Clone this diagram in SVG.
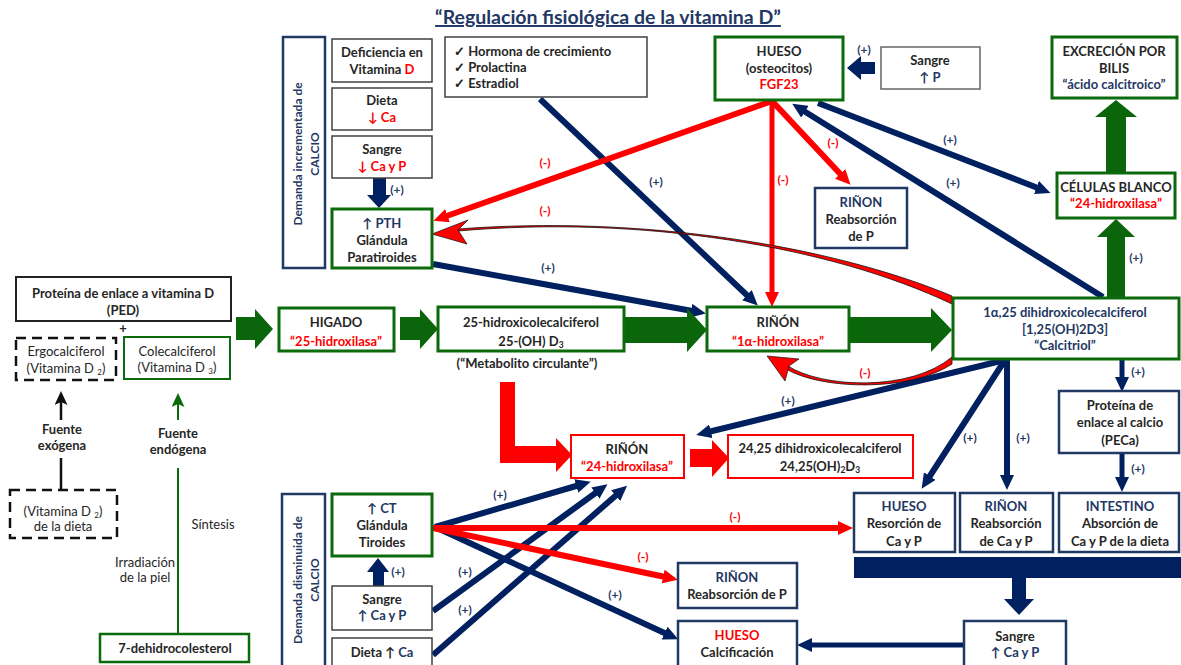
<svg xmlns="http://www.w3.org/2000/svg" width="1181" height="665" viewBox="0 0 1181 665">
<style>
text{font-family:Lato,"Liberation Sans",sans-serif;font-weight:bold;font-size:13px;text-anchor:middle;fill:#262626}
.n{fill:#1F3864}
.r{fill:#FF0000}
.reg{font-weight:normal}
.st{text-anchor:start}
.rot{font-size:12px}
.lb{font-size:12px}
.bg{fill:#fff;stroke:#404040;stroke-width:1.5}
.bgr{fill:#fff;stroke:#0B6A0B;stroke-width:3}
.bn{fill:#fff;stroke:#1F3864;stroke-width:2.5}
.br{fill:#fff;stroke:#FF0000;stroke-width:2}
.bd{fill:#fff;stroke:#111;stroke-width:2.5;stroke-dasharray:10 6}
.an{stroke:#002060;stroke-width:6;fill:none;marker-end:url(#mn)}
.ar{stroke:#FF0000;stroke-width:6;fill:none;marker-end:url(#mr)}
.gb{fill:#0B650B}
.nb{fill:#002060}
.rb{fill:#FF0000}
</style>
<defs>
<marker id="mn" markerUnits="userSpaceOnUse" markerWidth="15" markerHeight="14" viewBox="0 0 15 14" refX="7" refY="7" orient="auto"><path d="M0,0 L15,7 L0,14 z" fill="#002060"/></marker>
<marker id="mr" markerUnits="userSpaceOnUse" markerWidth="15" markerHeight="14" viewBox="0 0 15 14" refX="7" refY="7" orient="auto"><path d="M0,0 L15,7 L0,14 z" fill="#FF0000"/></marker>
<marker id="mk" markerUnits="userSpaceOnUse" markerWidth="14" markerHeight="13" viewBox="0 0 14 13" refX="7" refY="6.5" orient="auto"><path d="M0,0 L14,6.5 L0,13 L3,6.5 z" fill="#111"/></marker>
<marker id="mg" markerUnits="userSpaceOnUse" markerWidth="14" markerHeight="13" viewBox="0 0 14 13" refX="7" refY="6.5" orient="auto"><path d="M0,0 L14,6.5 L0,13 L3,6.5 z" fill="#0B6A0B"/></marker>
</defs>
<rect width="1181" height="665" fill="#fff"/>
<text id="title" x="608" y="24" class="n" style="font-size:19.5px;text-decoration:underline">“Regulación fisiológica de la vitamina D”</text>

<g id="connectors">
  <line class="an" x1="540" y1="99" x2="752" y2="300"/>
  <line class="an" x1="433" y1="264" x2="698" y2="312"/>
  <line class="an" x1="1103" y1="297" x2="799" y2="108"/>
  <line class="an" x1="818" y1="103" x2="1043" y2="190"/>
  <line class="an" x1="1005" y1="360" x2="704" y2="433"/>
  <line class="an" x1="1005" y1="360" x2="926" y2="482"/>
  <line class="an" x1="1007" y1="360" x2="1007" y2="482"/>
  <line class="an" x1="1122" y1="359" x2="1122" y2="384" style="stroke-width:5"/>
  <line class="an" x1="1122" y1="453" x2="1122" y2="484" style="stroke-width:5"/>
  <line class="an" x1="435" y1="527" x2="583" y2="484"/>
  <line class="an" x1="433" y1="611" x2="601" y2="489"/>
  <line class="an" x1="433" y1="655" x2="621" y2="491"/>
  <line class="an" x1="435" y1="527" x2="671" y2="636"/>
  <line class="an" x1="964" y1="645" x2="805" y2="645" style="stroke-width:5"/>
  <line class="ar" x1="772" y1="101" x2="441" y2="218"/>
  <line class="ar" x1="772" y1="101" x2="772" y2="299" style="stroke-width:5"/>
  <line class="ar" x1="772" y1="101" x2="845" y2="179"/>
  <line class="ar" x1="433" y1="528" x2="845" y2="528"/>
  <line class="ar" x1="433" y1="528" x2="670" y2="578"/>
  <polygon class="nb" points="373,178 386,178 386,195 391,195 379,208 367,195 373,195"/>
  <polygon class="nb" points="875,62 875,74 861,74 861,80 847,68 861,56 861,62"/>
  <polygon class="nb" points="373,586 384,586 384,572 389,572 378,558 367,572 373,572"/>
  <rect class="nb" x="854" y="557" width="327" height="21"/>
  <polygon class="nb" points="1012,578 1026,578 1026,599 1034,599 1019,615 1004,599 1012,599"/>
  <polygon class="gb" points="236,317 255,317 255,309 273,329 255,349 255,340 236,340"/>
  <polygon class="gb" points="400,317 420,317 420,309 438,329 420,349 420,340 400,340"/>
  <polygon class="gb" points="625,317 687,317 687,308 707,330 687,352 687,343 625,343"/>
  <polygon class="gb" points="850,317 931,317 931,308 952,330 931,352 931,343 850,343"/>
  <polygon class="gb" points="1107,297 1125,297 1125,237 1135,237 1116,219 1097,237 1107,237"/>
  <polygon class="gb" points="1106,173 1126,173 1126,117 1137,117 1116,100 1095,117 1106,117"/>
  <polygon class="rb" points="500,382 515,382 515,446 556,446 556,438 572,455 556,472 556,463 500,463"/>
  <polygon class="rb" points="690,449 712,449 712,440 729,458 712,477 712,467 690,467"/>
  <path d="M458,229 C640,215 830,245 952,296 L952,304 C830,246 640,215 458,231 Z" fill="#FF0000" stroke="#111" stroke-width="0.8"/>
  <path d="M432,234 L468,220 L458,230 L467,244 Z" fill="#FF0000" stroke="#111" stroke-width="0.7"/>
  <path d="M788,366 C822,388 910,392 952,357 L952,364 C910,392 822,390 786,369 Z" fill="#FF0000" stroke="#111" stroke-width="0.8"/>
  <path d="M767,356 L799,359 L789,366 L785,381 Z" fill="#FF0000" stroke="#111" stroke-width="0.7"/>
  <line x1="61" y1="420" x2="61" y2="398" stroke="#111" stroke-width="2.5" marker-end="url(#mk)"/>
  <line x1="61" y1="458" x2="61" y2="490" stroke="#111" stroke-width="2.5"/>
  <line x1="178" y1="420" x2="178" y2="400" stroke="#0B6A0B" stroke-width="2" marker-end="url(#mg)"/>
  <line x1="178" y1="468" x2="178" y2="634" stroke="#0B6A0B" stroke-width="2"/>
</g>

<g id="labels">
  <text class="n lb" x="397" y="194">(+)</text>
  <text class="n lb" x="864" y="54">(+)</text>
  <text class="n lb" x="656" y="186">(+)</text>
  <text class="n lb" x="548" y="272">(+)</text>
  <text class="n lb" x="950" y="144">(+)</text>
  <text class="n lb" x="953" y="187">(+)</text>
  <text class="n lb" x="1136" y="262">(+)</text>
  <text class="n lb" x="788" y="405">(+)</text>
  <text class="n lb" x="970" y="442">(+)</text>
  <text class="n lb" x="1023" y="442">(+)</text>
  <text class="n lb" x="1138" y="376">(+)</text>
  <text class="n lb" x="1138" y="473">(+)</text>
  <text class="n lb" x="398" y="576">(+)</text>
  <text class="n lb" x="500" y="499">(+)</text>
  <text class="n lb" x="465" y="576">(+)</text>
  <text class="n lb" x="465" y="614">(+)</text>
  <text class="n lb" x="615" y="599">(+)</text>
  <text class="r lb" x="545" y="167">(-)</text>
  <text class="r lb" x="545" y="215">(-)</text>
  <text class="r lb" x="783" y="184">(-)</text>
  <text class="r lb" x="833" y="147">(-)</text>
  <text class="r lb" x="865" y="377">(-)</text>
  <text class="r lb" x="735" y="521">(-)</text>
  <text class="r lb" x="643" y="561">(-)</text>
</g>

<g id="dem_inc"><rect class="bn" x="283" y="37" width="42" height="231"/>
  <text class="n rot" transform="translate(302,154) rotate(-90)">Demanda incrementada de</text>
  <text class="n rot" transform="translate(319,154) rotate(-90)">CALCIO</text></g>
<g id="deficiencia"><rect class="bg" x="332" y="39" width="100" height="43"/>
  <text x="382" y="57">Deficiencia en</text><text x="382" y="74">Vitamina <tspan class="r">D</tspan></text></g>
<g id="dieta_inc"><rect class="bg" x="332" y="88" width="100" height="42"/>
  <text x="382" y="105">Dieta</text><text class="r" x="382" y="122">↓ Ca</text></g>
<g id="sangre_inc"><rect class="bg" x="332" y="136" width="100" height="42"/>
  <text x="382" y="154">Sangre</text><text class="r" x="382" y="171">↓ Ca y P</text></g>
<g id="pth"><rect class="bgr" x="332" y="209" width="100" height="59"/>
  <text class="n" x="382" y="228">↑ PTH</text><text x="382" y="245">Glándula</text><text x="382" y="262">Paratiroides</text></g>
<g id="hormonas"><rect class="bg" x="445" y="37" width="202" height="60"/>
  <text class="st" x="454" y="56">✓ Hormona de crecimiento</text>
  <text class="st" x="454" y="72">✓ Prolactina</text>
  <text class="st" x="454" y="88">✓ Estradiol</text></g>
<g id="hueso_fgf23"><rect class="bgr" x="715" y="37" width="128" height="63"/>
  <text x="779" y="56">HUESO</text><text x="779" y="73">(osteocitos)</text><text class="r" x="779" y="89">FGF23</text></g>
<g id="sangre_p"><rect class="bg" x="881" y="47" width="99" height="42" style="stroke:#666"/>
  <text x="930" y="65">Sangre</text><text class="n" x="930" y="82">↑  P</text></g>
<g id="excrecion"><rect class="bgr" x="1052" y="37" width="125" height="61"/>
  <text x="1114" y="56">EXCRECIÓN POR</text><text x="1114" y="73">BILIS</text><text class="n" x="1114" y="89">“ácido calcitroico”</text></g>
<g id="celulas"><rect class="bgr" x="1057" y="173" width="118" height="45"/>
  <text x="1116" y="192">CÉLULAS BLANCO</text><text class="r" x="1116" y="208">“24-hidroxilasa”</text></g>
<g id="rinon_p_top"><rect class="bn" x="815" y="188" width="92" height="60"/>
  <text class="n" x="861" y="207">RIÑON</text><text x="861" y="224">Reabsorción</text><text x="861" y="241">de P</text></g>

<g id="ped"><rect x="16" y="277" width="215" height="44" fill="#fff" stroke="#222" stroke-width="2"/>
  <text x="123" y="298">Proteína de enlace a vitamina D</text><text x="123" y="315">(PED)</text></g>
<text x="123" y="333">+</text>
<g id="ergocalciferol"><rect class="bd" x="16" y="338" width="100" height="42"/>
  <text class="reg" x="66" y="356">Ergocalciferol</text><text class="reg" x="66" y="373">(Vitamina D <tspan font-size="8" dy="2">2</tspan><tspan dy="-2">)</tspan></text></g>
<g id="colecalciferol"><rect x="124" y="337" width="106" height="42" fill="#fff" stroke="#0B6A0B" stroke-width="2"/>
  <text class="reg" x="177" y="356">Colecalciferol</text><text class="reg" x="177" y="372">(Vitamina D <tspan font-size="8" dy="2">3</tspan><tspan dy="-2">)</tspan></text></g>
<g id="fuente_exogena"><text x="62" y="434">Fuente</text><text x="62" y="450">exógena</text></g>
<g id="fuente_endogena"><text x="178" y="438">Fuente</text><text x="178" y="454">endógena</text></g>
<g id="vitd2_dieta"><rect class="bd" x="10" y="490" width="107" height="48"/>
  <text class="reg" x="63" y="516">(Vitamina D <tspan font-size="8" dy="2">2</tspan><tspan dy="-2">)</tspan></text><text class="reg" x="63" y="531">de la dieta</text></g>
<text class="reg" x="213" y="529">Síntesis</text>
<text class="reg" x="145" y="567">Irradiación</text>
<text class="reg" x="145" y="582">de la piel</text>
<g id="dehidrocolesterol"><rect x="100" y="634" width="149" height="28" fill="#fff" stroke="#0B6A0B" stroke-width="2.5"/>
  <text x="175" y="653">7-dehidrocolesterol</text></g>

<g id="higado"><rect class="bgr" x="279" y="308" width="115" height="43"/>
  <text x="336" y="327">HIGADO</text><text class="r" x="336" y="346">“25-hidroxilasa”</text></g>
<g id="hidroxi25"><rect class="bgr" x="438" y="307" width="186" height="44"/>
  <text x="531" y="327">25-hidroxicolecalciferol</text><text x="531" y="346">25-(OH) D<tspan font-size="8.5" dy="2">3</tspan></text></g>
<text x="527" y="368">(“Metabolito circulante”)</text>
<g id="rinon_1a"><rect class="bgr" x="707" y="307" width="142" height="44"/>
  <text x="778" y="327">RIÑÓN</text><text class="r" x="778" y="346">“1α-hidroxilasa”</text></g>
<g id="calcitriol"><rect class="bgr" x="953" y="298" width="226" height="61"/>
  <text class="n" x="1065" y="317">1α,25 dihidroxicolecalciferol</text><text class="n" x="1065" y="334">[1,25(OH)2D3]</text><text class="n" x="1065" y="350">“Calcitriol”</text></g>
<g id="peca"><rect class="bn" x="1059" y="391" width="120" height="62"/>
  <text x="1120" y="410">Proteína de</text><text x="1120" y="427">enlace al calcio</text><text x="1120" y="445">(PECa)</text></g>
<g id="rinon_24"><rect class="br" x="571" y="435" width="113" height="43"/>
  <text x="627" y="454">RIÑÓN</text><text class="r" x="627" y="471">“24-hidroxilasa”</text></g>
<g id="dihidroxi2425"><rect class="br" x="728" y="435" width="185" height="43"/>
  <text x="820" y="453">24,25 dihidroxicolecalciferol</text><text x="820" y="471">24,25(OH)<tspan font-size="8.5" dy="2">2</tspan><tspan dy="-2">D</tspan><tspan font-size="8.5" dy="2">3</tspan></text></g>
<g id="hueso_resorcion"><rect class="bn" x="854" y="493" width="101" height="59"/>
  <text class="n" x="904" y="511">HUESO</text><text x="904" y="528">Resorción de</text><text x="904" y="546">Ca y P</text></g>
<g id="rinon_reabs_ca"><rect class="bn" x="960" y="493" width="93" height="59"/>
  <text class="n" x="1006" y="511">RIÑON</text><text x="1006" y="528">Reabsorción</text><text x="1006" y="546">de Ca y P</text></g>
<g id="intestino"><rect class="bn" x="1059" y="493" width="120" height="59"/>
  <text class="n" x="1120" y="511">INTESTINO</text><text x="1120" y="528">Absorción de</text><text x="1120" y="546">Ca y P de la dieta</text></g>
<g id="sangre_final"><rect class="bn" x="964" y="621" width="102" height="48"/>
  <text x="1015" y="641">Sangre</text><text class="n" x="1015" y="657">↑  Ca y P</text></g>
<g id="rinon_p_bottom"><rect class="bn" x="678" y="563" width="119" height="45"/>
  <text class="n" x="737" y="582">RIÑON</text><text x="737" y="599">Reabsorción de P</text></g>
<g id="hueso_calcificacion"><rect class="bn" x="678" y="621" width="119" height="48"/>
  <text class="r" x="737" y="640">HUESO</text><text x="737" y="657">Calcificación</text></g>
<g id="dem_dis"><rect class="bn" x="282" y="494" width="43" height="178"/>
  <text class="n rot" transform="translate(302,580) rotate(-90)">Demanda disminuida de</text>
  <text class="n rot" transform="translate(319,580) rotate(-90)">CALCIO</text></g>
<g id="ct"><rect class="bgr" x="332" y="494" width="100" height="62"/>
  <text class="n" x="382" y="513">↑ CT</text><text x="382" y="530">Glándula</text><text x="382" y="547">Tiroides</text></g>
<g id="sangre_dis"><rect class="bg" x="332" y="586" width="100" height="44"/>
  <text x="382" y="604">Sangre</text><text class="n" x="382" y="620">↑  Ca y P</text></g>
<g id="dieta_dis"><rect class="bg" x="332" y="638" width="100" height="32"/>
  <text x="382" y="657">Dieta ↑ <tspan class="n">Ca</tspan></text></g>
</svg>
